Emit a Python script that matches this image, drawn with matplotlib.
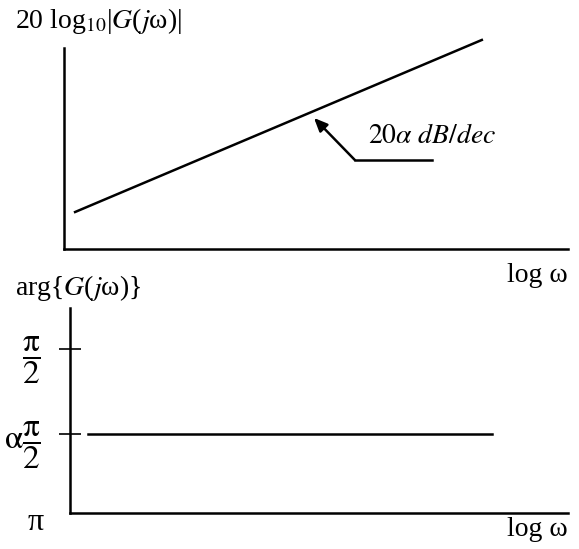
import matplotlib
matplotlib.use("Agg")
import matplotlib.pyplot as plt

plt.rcParams['font.family'] = ['Liberation Serif', 'DejaVu Serif']
plt.rcParams['mathtext.fontset'] = 'stix'

# Data (normalized log-frequency axis 0..1)
mag_logw = [0.022, 0.829]
mag_db = [0.184, 1.04]
phase_logw = [0.036, 0.847]
phase_val = [0.385, 0.385]
phase_ticks = [0.8, 0.385]
phase_ticklabels = [r'$\dfrac{\mathrm{\pi}}{2}$', r'$\mathrm{\alpha}\dfrac{\mathrm{\pi}}{2}$']

W, H = 579, 549
fig = plt.figure(figsize=(W/100, H/100), dpi=100)

def box(x0, y0, x1, y1):
    return [x0/W, 1 - y1/H, (x1 - x0)/W, (y1 - y0)/H]

# Top: magnitude
ax1 = fig.add_axes(box(64, 48, 568, 249))
ax1.set_xlim(0, 1); ax1.set_ylim(0, 1)
for s in ['top', 'right']:
    ax1.spines[s].set_visible(False)
for s in ['left', 'bottom']:
    ax1.spines[s].set_linewidth(1.8)
ax1.set_xticks([]); ax1.set_yticks([])
ax1.plot(mag_logw, mag_db, color='black', lw=1.8, clip_on=False)
ax1.annotate('', xy=(0.496, 0.652), xytext=(0.577, 0.443),
             arrowprops=dict(arrowstyle='-|>,head_length=0.8,head_width=0.35',
                             color='black', lw=1.8, shrinkA=0, shrinkB=0))
ax1.plot([0.577, 0.730], [0.443, 0.443], color='black', lw=1.8)
ax1.text(0.603, 0.562, r'$\mathrm{20}\alpha\ dB/dec$', fontsize=20,
         ha='left', va='center', transform=ax1.transAxes)
fig.text(15/W, 1 - 21/H, r'20 log$_{10}$|$G$($j$ω)|', fontsize=20,
         ha='left', va='center')
fig.text(568/W, 1 - 275/H, 'log ω', fontsize=20, ha='right', va='center')

# Bottom: phase
ax2 = fig.add_axes(box(70, 308, 568, 513))
ax2.set_xlim(0, 1); ax2.set_ylim(0, 1)
for s in ['top', 'right']:
    ax2.spines[s].set_visible(False)
for s in ['left', 'bottom']:
    ax2.spines[s].set_linewidth(1.8)
ax2.set_xticks([])
ax2.set_yticks(phase_ticks)
ax2.set_yticklabels(phase_ticklabels, fontsize=24)
ax2.tick_params(axis='y', direction='inout', length=16, width=1.2, pad=13)
ax2.plot(phase_logw, phase_val, color='black', lw=1.8)
fig.text(36/W, 1 - 523/H, 'π', fontsize=23, ha='center', va='center')
fig.text(15/W, 1 - 288/H, r'arg{$G$($j$ω)}', fontsize=20, ha='left', va='center')
fig.text(568/W, 1 - 529/H, 'log ω', fontsize=20, ha='right', va='center')

fig.savefig('out.png', dpi=100)
